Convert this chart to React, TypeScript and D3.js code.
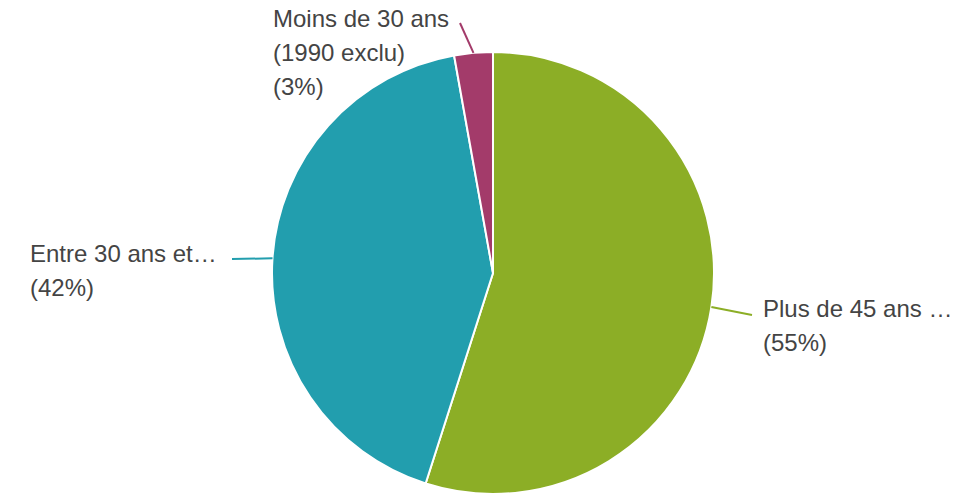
import React from "react";
import * as d3 from "d3";

const categories = ["Plus de 45 ans …", "Entre 30 ans et…", "Moins de 30 ans (1990 exclu)"];
const values = [39, 30, 2];
const labelLines = [
  ["Plus de 45 ans …", "(55%)"],
  ["Entre 30 ans et…", "(42%)"],
  ["Moins de 30 ans", "(1990 exclu)", "(3%)"],
];
const colors = ["#8cae26", "#229eae", "#a33b6a"];

// label layout: text block start x, first baseline y, leader end point
const labelLayout = [
  { x: 763, y: 317, lx: 752, ly: 315 },
  { x: 30, y: 262, lx: 232, ly: 259 },
  { x: 273, y: 27, lx: 460, ly: 23 },
];

const W = 975;
const H = 495;
const cx = 493;
const cy = 273;
const R = 221;
const LINE_H = 34;

export default function App() {
  const pie = d3.pie<number>().sort(null).value((d) => d)(values);
  const arc = d3.arc<d3.PieArcDatum<number>>().innerRadius(0).outerRadius(R);
  return (
    <svg
      width={W}
      height={H}
      style={{ position: "absolute", left: 0, top: 0, background: "#fff" }}
      fontFamily="'Liberation Sans', Arial, sans-serif"
    >
      <g transform={`translate(${cx},${cy})`}>
        {pie.map((p, i) => (
          <path key={categories[i]} d={arc(p) || ""} fill={colors[i]} stroke="#fff" strokeWidth={2} />
        ))}
      </g>
      {pie.map((p, i) => {
        const a = (p.startAngle + p.endAngle) / 2;
        const sx = cx + R * Math.sin(a);
        const sy = cy - R * Math.cos(a);
        const L = labelLayout[i];
        return (
          <g key={"l" + i}>
            <line x1={sx} y1={sy} x2={L.lx} y2={L.ly} stroke={colors[i]} strokeWidth={2} />
            <text fontSize={24} fill="#444">
              {labelLines[i].map((t, j) => (
                <tspan key={j} x={L.x} y={L.y + j * LINE_H}>
                  {t}
                </tspan>
              ))}
            </text>
          </g>
        );
      })}
    </svg>
  );
}
